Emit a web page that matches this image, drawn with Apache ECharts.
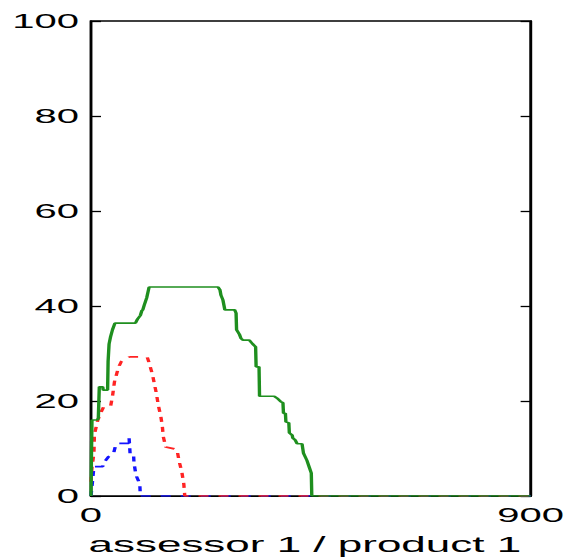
<!DOCTYPE html>
<html>
<head>
<meta charset="utf-8">
<title>assessor 1 / product 1</title>
<script src="https://cdn.jsdelivr.net/npm/echarts@6/dist/echarts.min.js"></script>
<style>
	html, body { margin: 0; padding: 0; background: #fff; overflow: hidden; }
	/* the source picture is stretched sideways, so the chart is drawn at half width and scaled */
	#chart { width: 285px; height: 560px; transform: scaleX(2); transform-origin: 0 0; }
</style>
</head>
<body>
<div id="chart"></div>
<script>
const xTicks = [0, 900];
const yTicks = [0, 20, 40, 60, 80, 100];

const blueX = [0, 3, 6, 24, 26, 30, 36, 44, 47, 50, 54, 77, 78, 80, 87, 88, 92, 98, 100, 101, 900];
const blueY = [0, 3, 6.2, 6.2, 7.2, 7.5, 8.3, 8.6, 9.3, 10.5, 11.1, 11.1, 12.2, 9, 9, 7, 4.4, 3, 2.3, 0, 0];

const redX = [0, 2, 6, 7, 14, 20, 26, 40, 44, 48, 52, 56, 62, 72, 80, 115, 119, 126, 130, 134, 138, 143, 146, 148, 153, 176, 180, 186, 190, 192, 900];
const redY = [3, 6, 9, 13, 16, 17.5, 18.8, 18.8, 21, 24, 25.5, 27, 28.3, 29, 29.3, 29.3, 28, 25.5, 23.5, 21.5, 19, 16.7, 14.7, 12.5, 10.3, 9.8, 7.5, 5, 2.5, 0, 0];

const greenX = [0, 1, 2, 13, 15, 17, 24, 25, 34, 35, 37, 40, 44, 49, 91, 95, 101, 104, 106, 109, 114, 119, 260, 264, 266, 270, 274, 294, 297, 298, 304, 307, 311, 324, 331, 337, 338, 344, 345, 375, 381, 388, 393, 394, 398, 399, 405, 406, 412, 413, 418, 422, 432, 435, 442, 447, 451, 452, 900];
const greenY = [0, 9, 16, 16, 16.4, 23, 23, 22.3, 22.3, 28.3, 32, 33.5, 35, 36.4, 36.4, 37.2, 38, 39, 39.2, 40.2, 41.7, 44, 44, 43.4, 42.3, 41.3, 39.2, 39.2, 38.5, 35, 34, 33.2, 32.8, 32.8, 32, 31.4, 27.2, 27.2, 21, 21, 20.6, 19.9, 19.6, 17.4, 17.4, 15.6, 15.4, 13.3, 12.8, 12.2, 11.8, 11, 11, 9, 7.5, 6, 4.8, 0, 0];

( function() {

	const pairs = function( xs, ys ) {
		return xs.map((x, i) => [x, ys[i]]);
	}

	const lineSeries = function( name, xs, ys, color, dashed ) {
		return {
			name: name,
			type: 'line',
			data: pairs(xs, ys),
			showSymbol: false,
			animation: false,
			lineStyle: {
				color: color,
				width: 1.7,
				type: dashed ? [5, 5] : 'solid'
			}
		};
	}

	const yAxisBase = function( side ) {
		return {
			type: 'value',
			position: side,
			min: yTicks[0],
			max: yTicks[yTicks.length - 1],
			interval: yTicks[1] - yTicks[0],
			splitLine: { show: false },
			axisLine: { show: true, lineStyle: { color: '#000', width: 1.2 } },
			axisTick: { show: true, inside: true, length: 5, lineStyle: { color: '#000', width: 1.3 } },
			axisLabel: {
				show: side === 'left',
				margin: 6,
				color: '#000',
				fontSize: 20,
				fontFamily: '"Liberation Sans", Arial, sans-serif'
			}
		};
	}

	const setupChart = function() {
		const el = document.getElementById('chart');
		const myChart = echarts.init(el, null, { renderer: 'svg' });

		const option = {
			backgroundColor: '#fff',
			animation: false,
			grid: {
				left: 45.5,
				right: 16.5,
				top: 21,
				bottom: 64,
				show: true,
				borderColor: '#000',
				borderWidth: 1.3
			},
			xAxis: {
				type: 'value',
				min: xTicks[0],
				max: xTicks[xTicks.length - 1],
				interval: xTicks[1] - xTicks[0],
				name: 'assessor 1 / product 1',
				nameLocation: 'middle',
				nameGap: 37,
				nameTextStyle: {
					color: '#000',
					fontSize: 22,
					fontFamily: '"Liberation Sans", Arial, sans-serif',
					padding: [0, 6, 0, 0]
				},
				splitLine: { show: false },
				axisLine: { show: true, lineStyle: { color: '#000', width: 1.2 } },
				axisTick: { show: false },
				axisLabel: {
					margin: 9,
					color: '#000',
					fontSize: 20,
					fontFamily: '"Liberation Sans", Arial, sans-serif'
				}
			},
			yAxis: [ yAxisBase('left'), yAxisBase('right') ],
			series: [
				lineSeries('blue', blueX, blueY, '#1414ff', true),
				lineSeries('red', redX, redY, '#ff2424', true),
				lineSeries('green', greenX, greenY, '#1f8f1f', false)
			]
		};

		myChart.setOption(option);
	}

	document.addEventListener("DOMContentLoaded", function() {
		setupChart();
	});

}() );
</script>
</body>
</html>
